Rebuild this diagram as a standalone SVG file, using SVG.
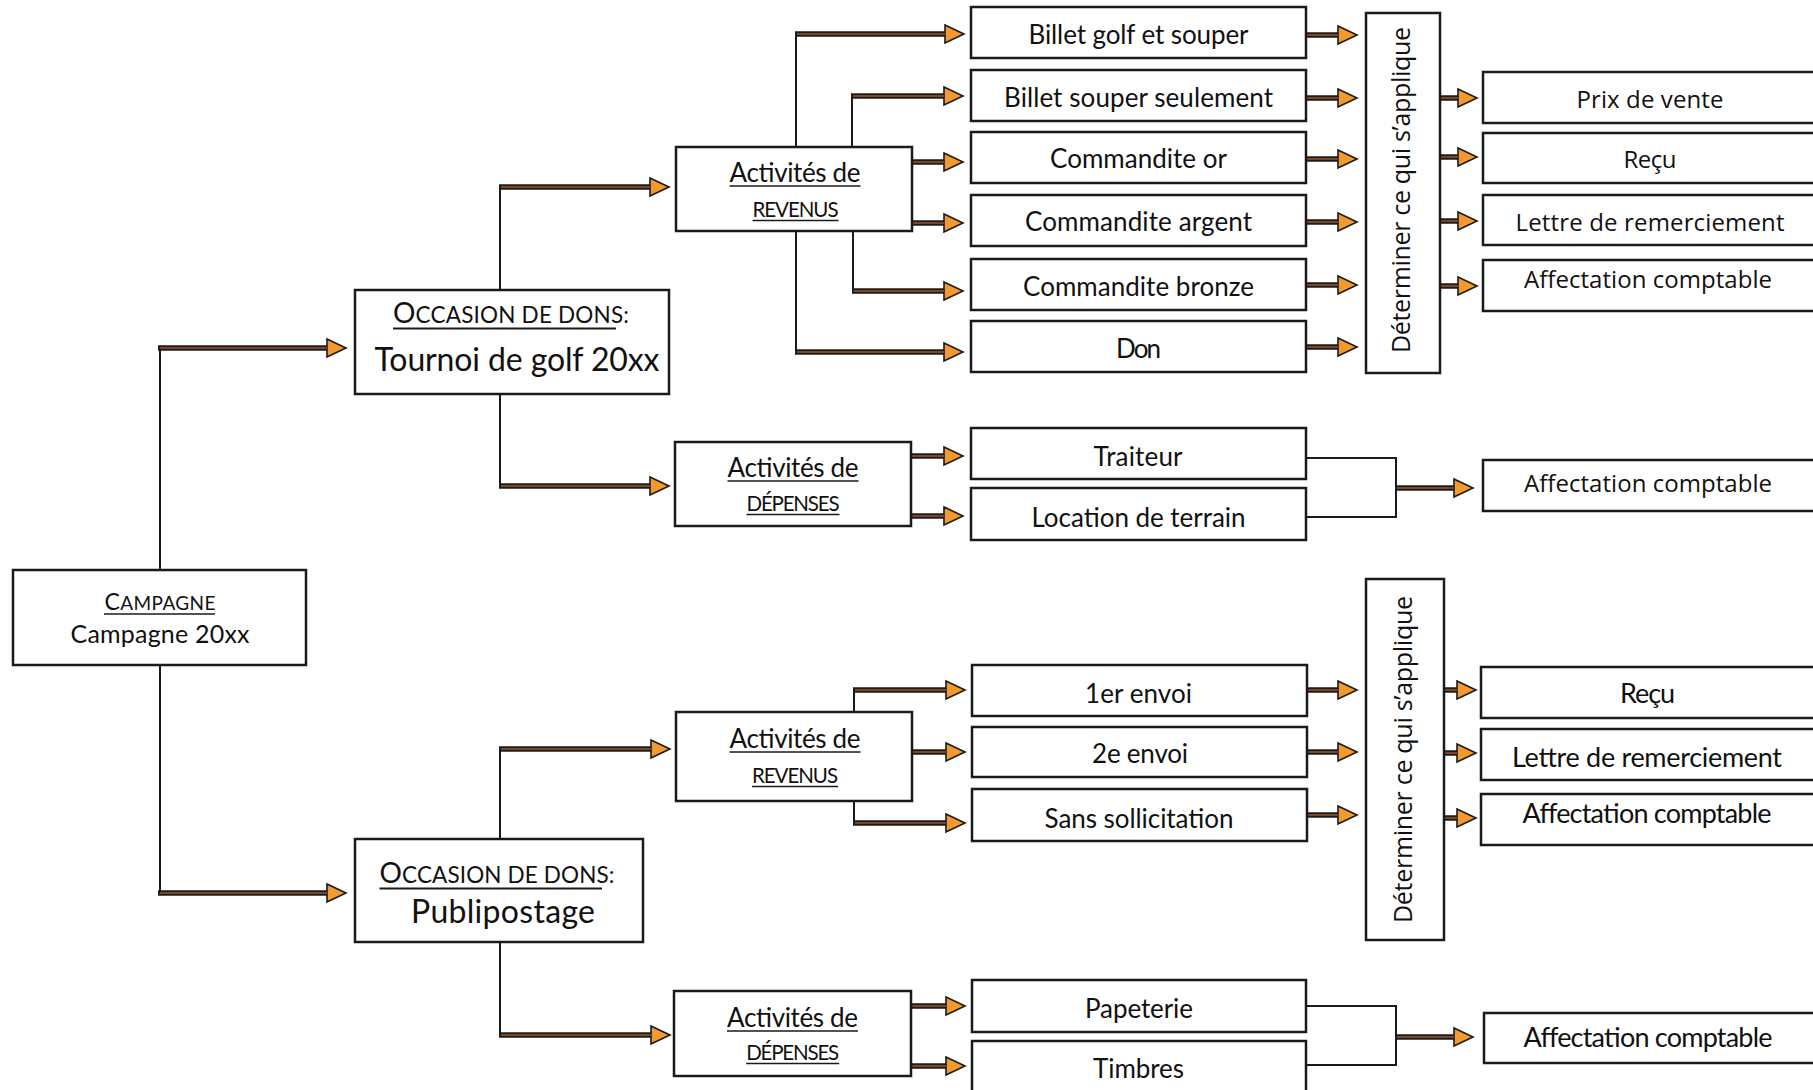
<svg xmlns="http://www.w3.org/2000/svg" width="1813" height="1090" viewBox="0 0 1813 1090">
<style>
  .box{fill:#fff;stroke:#1a1a1a;stroke-width:2.5}
  .thin{fill:none;stroke:#1a1a1a;stroke-width:2}
  .shaft{fill:none;stroke:#1c1c1c;stroke-width:5.5}
  .core{fill:none;stroke:#7a4527;stroke-width:2}
  .ul{stroke:#1a1a1a;stroke-width:1.6}
  text{fill:#111}
  .c{font-family:Lato,"Liberation Sans",sans-serif}
  .m{font-family:"Open Sans","Liberation Sans",sans-serif}
  .mid{text-anchor:middle}
  .lbl{font-size:26px}
</style>
<defs>
  <marker id="ah" viewBox="-1 -1 22 20" refX="0" refY="9" markerWidth="22" markerHeight="20" markerUnits="userSpaceOnUse" orient="auto" overflow="visible">
    <path d="M0,0 L19,9 L0,18 Z" fill="#f29a2e" stroke="#1a1a1a" stroke-width="1.6" stroke-linejoin="miter"/>
  </marker>
</defs>
<rect width="1813" height="1090" fill="#fff"/>

<g id="connectors">
  <path class="thin" d="M160,570 V348 M160,665 V893"/>
  <path class="thin" d="M500,290 V187 M500,394 V486"/>
  <path class="thin" d="M796,147 V34 M852,147 V96 M853,231 V291 M796,231 V352"/>
  <path class="thin" d="M500,839 V749 M500,942 V1035"/>
  <path class="thin" d="M854,712 V690 M854,801 V823"/>
  <path class="thin" d="M1306,458 H1396 V517 H1306"/>
  <path class="thin" d="M1306,1006 H1396 V1065 H1306"/>
  <g marker-end="url(#ah)">
    <path class="shaft" d="M158,348 H327"/>
    <path class="shaft" d="M158,893 H327"/>
    <path class="shaft" d="M499,187 H650"/>
    <path class="shaft" d="M499,486 H650"/>
    <path class="shaft" d="M795,34 H945"/>
    <path class="shaft" d="M851,96 H944"/>
    <path class="shaft" d="M912,162 H944"/>
    <path class="shaft" d="M912,223 H944"/>
    <path class="shaft" d="M852,291 H944"/>
    <path class="shaft" d="M795,352 H944"/>
    <path class="shaft" d="M1306,35 H1338"/>
    <path class="shaft" d="M1306,98 H1338"/>
    <path class="shaft" d="M1306,159 H1338"/>
    <path class="shaft" d="M1306,222 H1338"/>
    <path class="shaft" d="M1306,285 H1338"/>
    <path class="shaft" d="M1306,347 H1338"/>
    <path class="shaft" d="M1440,98 H1458"/>
    <path class="shaft" d="M1440,157 H1458"/>
    <path class="shaft" d="M1440,221 H1458"/>
    <path class="shaft" d="M1440,286 H1458"/>
    <path class="shaft" d="M911,456 H944"/>
    <path class="shaft" d="M911,516 H944"/>
    <path class="shaft" d="M1396,488 H1454"/>
    <path class="shaft" d="M499,749 H651"/>
    <path class="shaft" d="M499,1035 H651"/>
    <path class="shaft" d="M853,690 H946"/>
    <path class="shaft" d="M912,752 H946"/>
    <path class="shaft" d="M853,823 H946"/>
    <path class="shaft" d="M1307,690 H1338"/>
    <path class="shaft" d="M1307,752 H1338"/>
    <path class="shaft" d="M1307,815 H1338"/>
    <path class="shaft" d="M1444,690 H1457"/>
    <path class="shaft" d="M1444,753 H1457"/>
    <path class="shaft" d="M1444,818 H1457"/>
    <path class="shaft" d="M911,1006 H946"/>
    <path class="shaft" d="M911,1066 H946"/>
    <path class="shaft" d="M1396,1037 H1454"/>
  </g>
  <path class="core" d="M160,348 H327 M160,893 H327 M501,187 H650 M501,486 H650 M797,34 H945 M853,96 H944 M913,162 H944 M913,223 H944 M854,291 H944 M797,352 H944
    M1307,35 H1338 M1307,98 H1338 M1307,159 H1338 M1307,222 H1338 M1307,285 H1338 M1307,347 H1338
    M1441,98 H1458 M1441,157 H1458 M1441,221 H1458 M1441,286 H1458
    M912,456 H944 M912,516 H944 M1397,488 H1454 M501,749 H651 M501,1035 H651
    M855,690 H946 M913,752 H946 M855,823 H946 M1308,690 H1338 M1308,752 H1338 M1308,815 H1338
    M1445,690 H1457 M1445,753 H1457 M1445,818 H1457 M912,1006 H946 M912,1066 H946 M1397,1037 H1454"/>
</g>

<g id="campagne">
  <rect class="box" x="13" y="570" width="293" height="95"/>
  <text class="c mid" x="160" y="610" textLength="111"><tspan font-size="23">C</tspan><tspan font-size="19">AMPAGNE</tspan></text>
  <line class="ul" x1="104" y1="614" x2="215" y2="614"/>
  <text class="c mid" x="160" y="643" font-size="25" textLength="179">Campagne 20xx</text>
</g>

<g id="occasion-golf">
  <rect class="box" x="355" y="290" width="314" height="104"/>
  <text class="c" x="393" y="323" textLength="236"><tspan font-size="28">O</tspan><tspan font-size="22.5">CCASION DE DONS:</tspan></text>
  <line class="ul" x1="393" y1="328.5" x2="616" y2="328.5" style="stroke-width:2"/>
  <text class="c mid" x="517" y="371" font-size="32" textLength="285">Tournoi de golf 20xx</text>
</g>

<g id="revenus-golf">
  <rect class="box" x="676" y="147" width="236" height="84"/>
  <text class="c mid" x="795" y="182" font-size="26" textLength="131">Activités de</text>
  <line class="ul" x1="729.5" y1="186" x2="860.5" y2="186"/>
  <text class="c mid" x="795.5" y="217" font-size="20.5" textLength="86">REVENUS</text>
  <line class="ul" x1="752.5" y1="220.5" x2="838.5" y2="220.5"/>
</g>

<g id="depenses-golf">
  <rect class="box" x="675" y="442" width="236" height="84"/>
  <text class="c mid" x="793" y="477" font-size="26" textLength="131">Activités de</text>
  <line class="ul" x1="727.5" y1="481" x2="858.5" y2="481"/>
  <text class="c mid" x="793" y="511" font-size="20.5" textLength="93">DÉPENSES</text>
  <line class="ul" x1="746.5" y1="514.5" x2="839.5" y2="514.5"/>
</g>

<g id="billet-golf-souper"><rect class="box" x="971" y="7" width="335" height="51"/><text class="c mid lbl" x="1138.5" y="44" textLength="220">Billet golf et souper</text></g>
<g id="billet-souper"><rect class="box" x="971" y="70" width="335" height="51"/><text class="c mid lbl" x="1138.5" y="107" textLength="269">Billet souper seulement</text></g>
<g id="commandite-or"><rect class="box" x="971" y="132" width="335" height="51"/><text class="c mid lbl" x="1138.5" y="168" textLength="177">Commandite or</text></g>
<g id="commandite-argent"><rect class="box" x="971" y="195" width="335" height="51"/><text class="c mid lbl" x="1138.5" y="231" textLength="227">Commandite argent</text></g>
<g id="commandite-bronze"><rect class="box" x="971" y="259" width="335" height="51"/><text class="c mid lbl" x="1138.5" y="296" textLength="231">Commandite bronze</text></g>
<g id="don"><rect class="box" x="971" y="321" width="335" height="51"/><text class="c mid lbl" x="1138.5" y="358" textLength="45">Don</text></g>

<g id="determiner-golf">
  <rect class="box" x="1366" y="13" width="74" height="360"/>
  <text class="m mid" transform="translate(1410,190) rotate(-90)" font-size="25" textLength="326">Déterminer ce qui s’applique</text>
</g>

<g id="prix-vente"><rect class="box" x="1483" y="72" width="340" height="51"/><text class="m mid" x="1650" y="108" font-size="24" textLength="147">Prix de vente</text></g>
<g id="recu-golf"><rect class="box" x="1483" y="133" width="340" height="50"/><text class="m mid" x="1650" y="168" font-size="24" textLength="53">Reçu</text></g>
<g id="lettre-golf"><rect class="box" x="1483" y="195" width="340" height="50"/><text class="m mid" x="1650" y="231" font-size="24" textLength="269">Lettre de remerciement</text></g>
<g id="affectation-golf-rev"><rect class="box" x="1483" y="260" width="340" height="51"/><text class="m mid" x="1648" y="288" font-size="24" textLength="248">Affectation comptable</text></g>

<g id="traiteur"><rect class="box" x="971" y="428" width="335" height="51"/><text class="c mid lbl" x="1138" y="466" textLength="89">Traiteur</text></g>
<g id="location-terrain"><rect class="box" x="971" y="488" width="335" height="52"/><text class="c mid lbl" x="1138.5" y="527" textLength="214">Location de terrain</text></g>
<g id="affectation-golf-dep"><rect class="box" x="1483" y="460" width="340" height="51"/><text class="m mid" x="1648" y="492" font-size="24" textLength="248">Affectation comptable</text></g>

<g id="occasion-publipostage">
  <rect class="box" x="355" y="839" width="288" height="103"/>
  <text class="c" x="379.5" y="883" textLength="235"><tspan font-size="28">O</tspan><tspan font-size="22.5">CCASION DE DONS:</tspan></text>
  <line class="ul" x1="379.5" y1="888.5" x2="602" y2="888.5" style="stroke-width:2"/>
  <text class="c mid" x="503" y="923" font-size="32" textLength="184">Publipostage</text>
</g>

<g id="revenus-publipostage">
  <rect class="box" x="676" y="712" width="236" height="89"/>
  <text class="c mid" x="795" y="748" font-size="26" textLength="131">Activités de</text>
  <line class="ul" x1="729.5" y1="752" x2="860.5" y2="752"/>
  <text class="c mid" x="795" y="783" font-size="20.5" textLength="86">REVENUS</text>
  <line class="ul" x1="752" y1="786.5" x2="838" y2="786.5"/>
</g>

<g id="depenses-publipostage">
  <rect class="box" x="674" y="991" width="237" height="85"/>
  <text class="c mid" x="792.5" y="1027" font-size="26" textLength="131">Activités de</text>
  <line class="ul" x1="727" y1="1031" x2="858" y2="1031"/>
  <text class="c mid" x="792.7" y="1060" font-size="20.5" textLength="93">DÉPENSES</text>
  <line class="ul" x1="746.2" y1="1063.5" x2="839.2" y2="1063.5"/>
</g>

<g id="envoi-1"><rect class="box" x="972" y="665" width="335" height="51"/><text class="c mid lbl" x="1138.5" y="703" textLength="107">1er envoi</text></g>
<g id="envoi-2"><rect class="box" x="972" y="727" width="335" height="50"/><text class="c mid lbl" x="1140" y="763" textLength="96">2e envoi</text></g>
<g id="sans-sollicitation"><rect class="box" x="972" y="789" width="335" height="52"/><text class="c mid lbl" x="1139" y="828" textLength="189">Sans sollicitation</text></g>

<g id="determiner-publipostage">
  <rect class="box" x="1366" y="579" width="78" height="361"/>
  <text class="m mid" transform="translate(1412,759.5) rotate(-90)" font-size="25" textLength="327">Déterminer ce qui s’applique</text>
</g>

<g id="recu-pub"><rect class="box" x="1481" y="667" width="340" height="51"/><text class="c mid" x="1647.5" y="703" font-size="27" textLength="55">Reçu</text></g>
<g id="lettre-pub"><rect class="box" x="1481" y="729" width="340" height="51"/><text class="c mid" x="1647" y="767" font-size="27" textLength="270">Lettre de remerciement</text></g>
<g id="affectation-pub-rev"><rect class="box" x="1481" y="794" width="340" height="51"/><text class="c mid" x="1647" y="823" font-size="27" textLength="249">Affectation comptable</text></g>

<g id="papeterie"><rect class="box" x="972" y="980" width="334" height="52"/><text class="c mid lbl" x="1139" y="1018" textLength="108">Papeterie</text></g>
<g id="timbres"><rect class="box" x="972" y="1041" width="334" height="70"/><text class="c mid lbl" x="1138.5" y="1078" textLength="91">Timbres</text></g>
<g id="affectation-pub-dep"><rect class="box" x="1484" y="1013" width="340" height="50"/><text class="c mid" x="1648" y="1047" font-size="27" textLength="249">Affectation comptable</text></g>
</svg>
